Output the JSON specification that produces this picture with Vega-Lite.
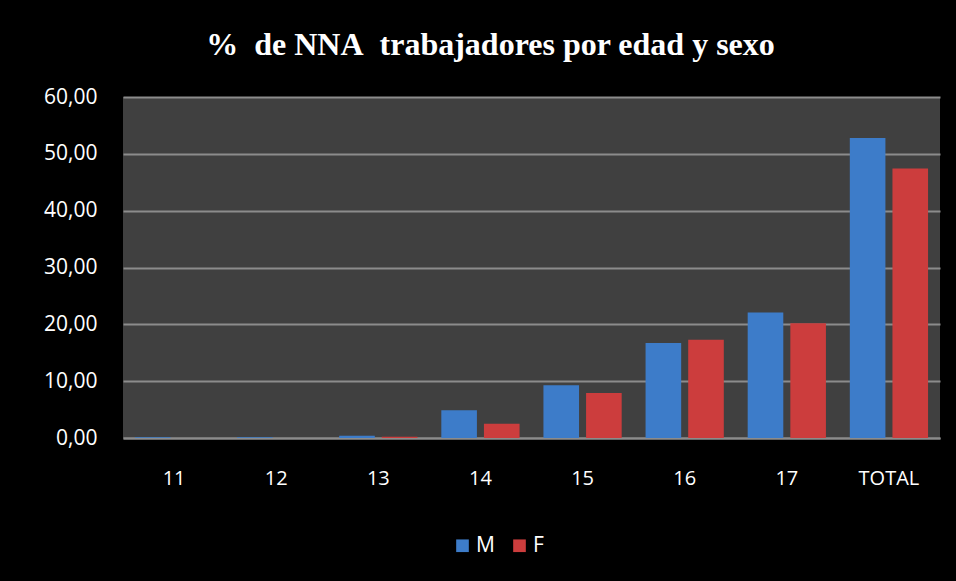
{
  "$schema": "https://vega.github.io/schema/vega-lite/v6.json",
  "width": 817,
  "height": 341,
  "autosize": {"type": "none"},
  "padding": {"left": 123, "top": 97, "right": 16, "bottom": 143},
  "background": "#000000",
  "title": {
    "text": "%\u00a0 de NNA\u00a0 trabajadores por edad y sexo",
    "font": "Liberation Serif",
    "fontSize": 32,
    "fontWeight": "bold",
    "color": "#ffffff",
    "anchor": "middle",
    "dx": -41,
    "offset": 24
  },
  "data": {
    "values": [
      {"edad": "11", "sexo": "M", "pct": 0.15},
      {"edad": "11", "sexo": "F", "pct": 0.0},
      {"edad": "12", "sexo": "M", "pct": 0.15},
      {"edad": "12", "sexo": "F", "pct": 0.0},
      {"edad": "13", "sexo": "M", "pct": 0.4},
      {"edad": "13", "sexo": "F", "pct": 0.2},
      {"edad": "14", "sexo": "M", "pct": 4.9},
      {"edad": "14", "sexo": "F", "pct": 2.5},
      {"edad": "15", "sexo": "M", "pct": 9.3},
      {"edad": "15", "sexo": "F", "pct": 7.9},
      {"edad": "16", "sexo": "M", "pct": 16.7},
      {"edad": "16", "sexo": "F", "pct": 17.3},
      {"edad": "17", "sexo": "M", "pct": 22.1},
      {"edad": "17", "sexo": "F", "pct": 20.2},
      {"edad": "TOTAL", "sexo": "M", "pct": 52.8},
      {"edad": "TOTAL", "sexo": "F", "pct": 47.4}
    ]
  },
  "mark": {"type": "bar"},
  "encoding": {
    "x": {
      "field": "edad",
      "type": "nominal",
      "sort": null,
      "scale": {"paddingInner": 0, "paddingOuter": 0},
      "axis": {
        "title": null,
        "labelAngle": 0,
        "labelColor": "#ffffff",
        "labelFont": "Open Sans",
        "labelFontSize": 20,
        "labelPadding": 30,
        "ticks": false,
        "domainColor": "#8c8c8c",
        "domainWidth": 2,
        "grid": false
      }
    },
    "xOffset": {
      "field": "sexo",
      "type": "nominal",
      "sort": ["M", "F"],
      "scale": {"paddingInner": 0.165, "paddingOuter": 0.28}
    },
    "y": {
      "field": "pct",
      "type": "quantitative",
      "scale": {"domain": [0, 60], "nice": false},
      "axis": {
        "title": null,
        "values": [0, 10, 20, 30, 40, 50, 60],
        "labelExpr": "replace(format(datum.value, '.2f'), '.', ',')",
        "labelColor": "#ffffff",
        "labelFont": "Open Sans",
        "labelFontSize": 21,
        "labelPadding": 26,
        "ticks": false,
        "domain": false,
        "grid": true,
        "gridColor": "#8c8c8c",
        "gridWidth": 2
      }
    },
    "color": {
      "field": "sexo",
      "type": "nominal",
      "sort": ["M", "F"],
      "scale": {"domain": ["M", "F"], "range": ["#3d7cc9", "#cc3d3d"]},
      "legend": {
        "title": null,
        "orient": "none",
        "direction": "horizontal",
        "legendX": 329,
        "legendY": 438,
        "symbolType": "square",
        "symbolSize": 160,
        "symbolStrokeWidth": 0,
        "labelColor": "#ffffff",
        "labelFont": "Open Sans",
        "labelFontSize": 21,
        "labelOffset": 3,
        "columnPadding": 14
      }
    }
  },
  "config": {
    "view": {"fill": "#404040", "stroke": null}
  }
}
